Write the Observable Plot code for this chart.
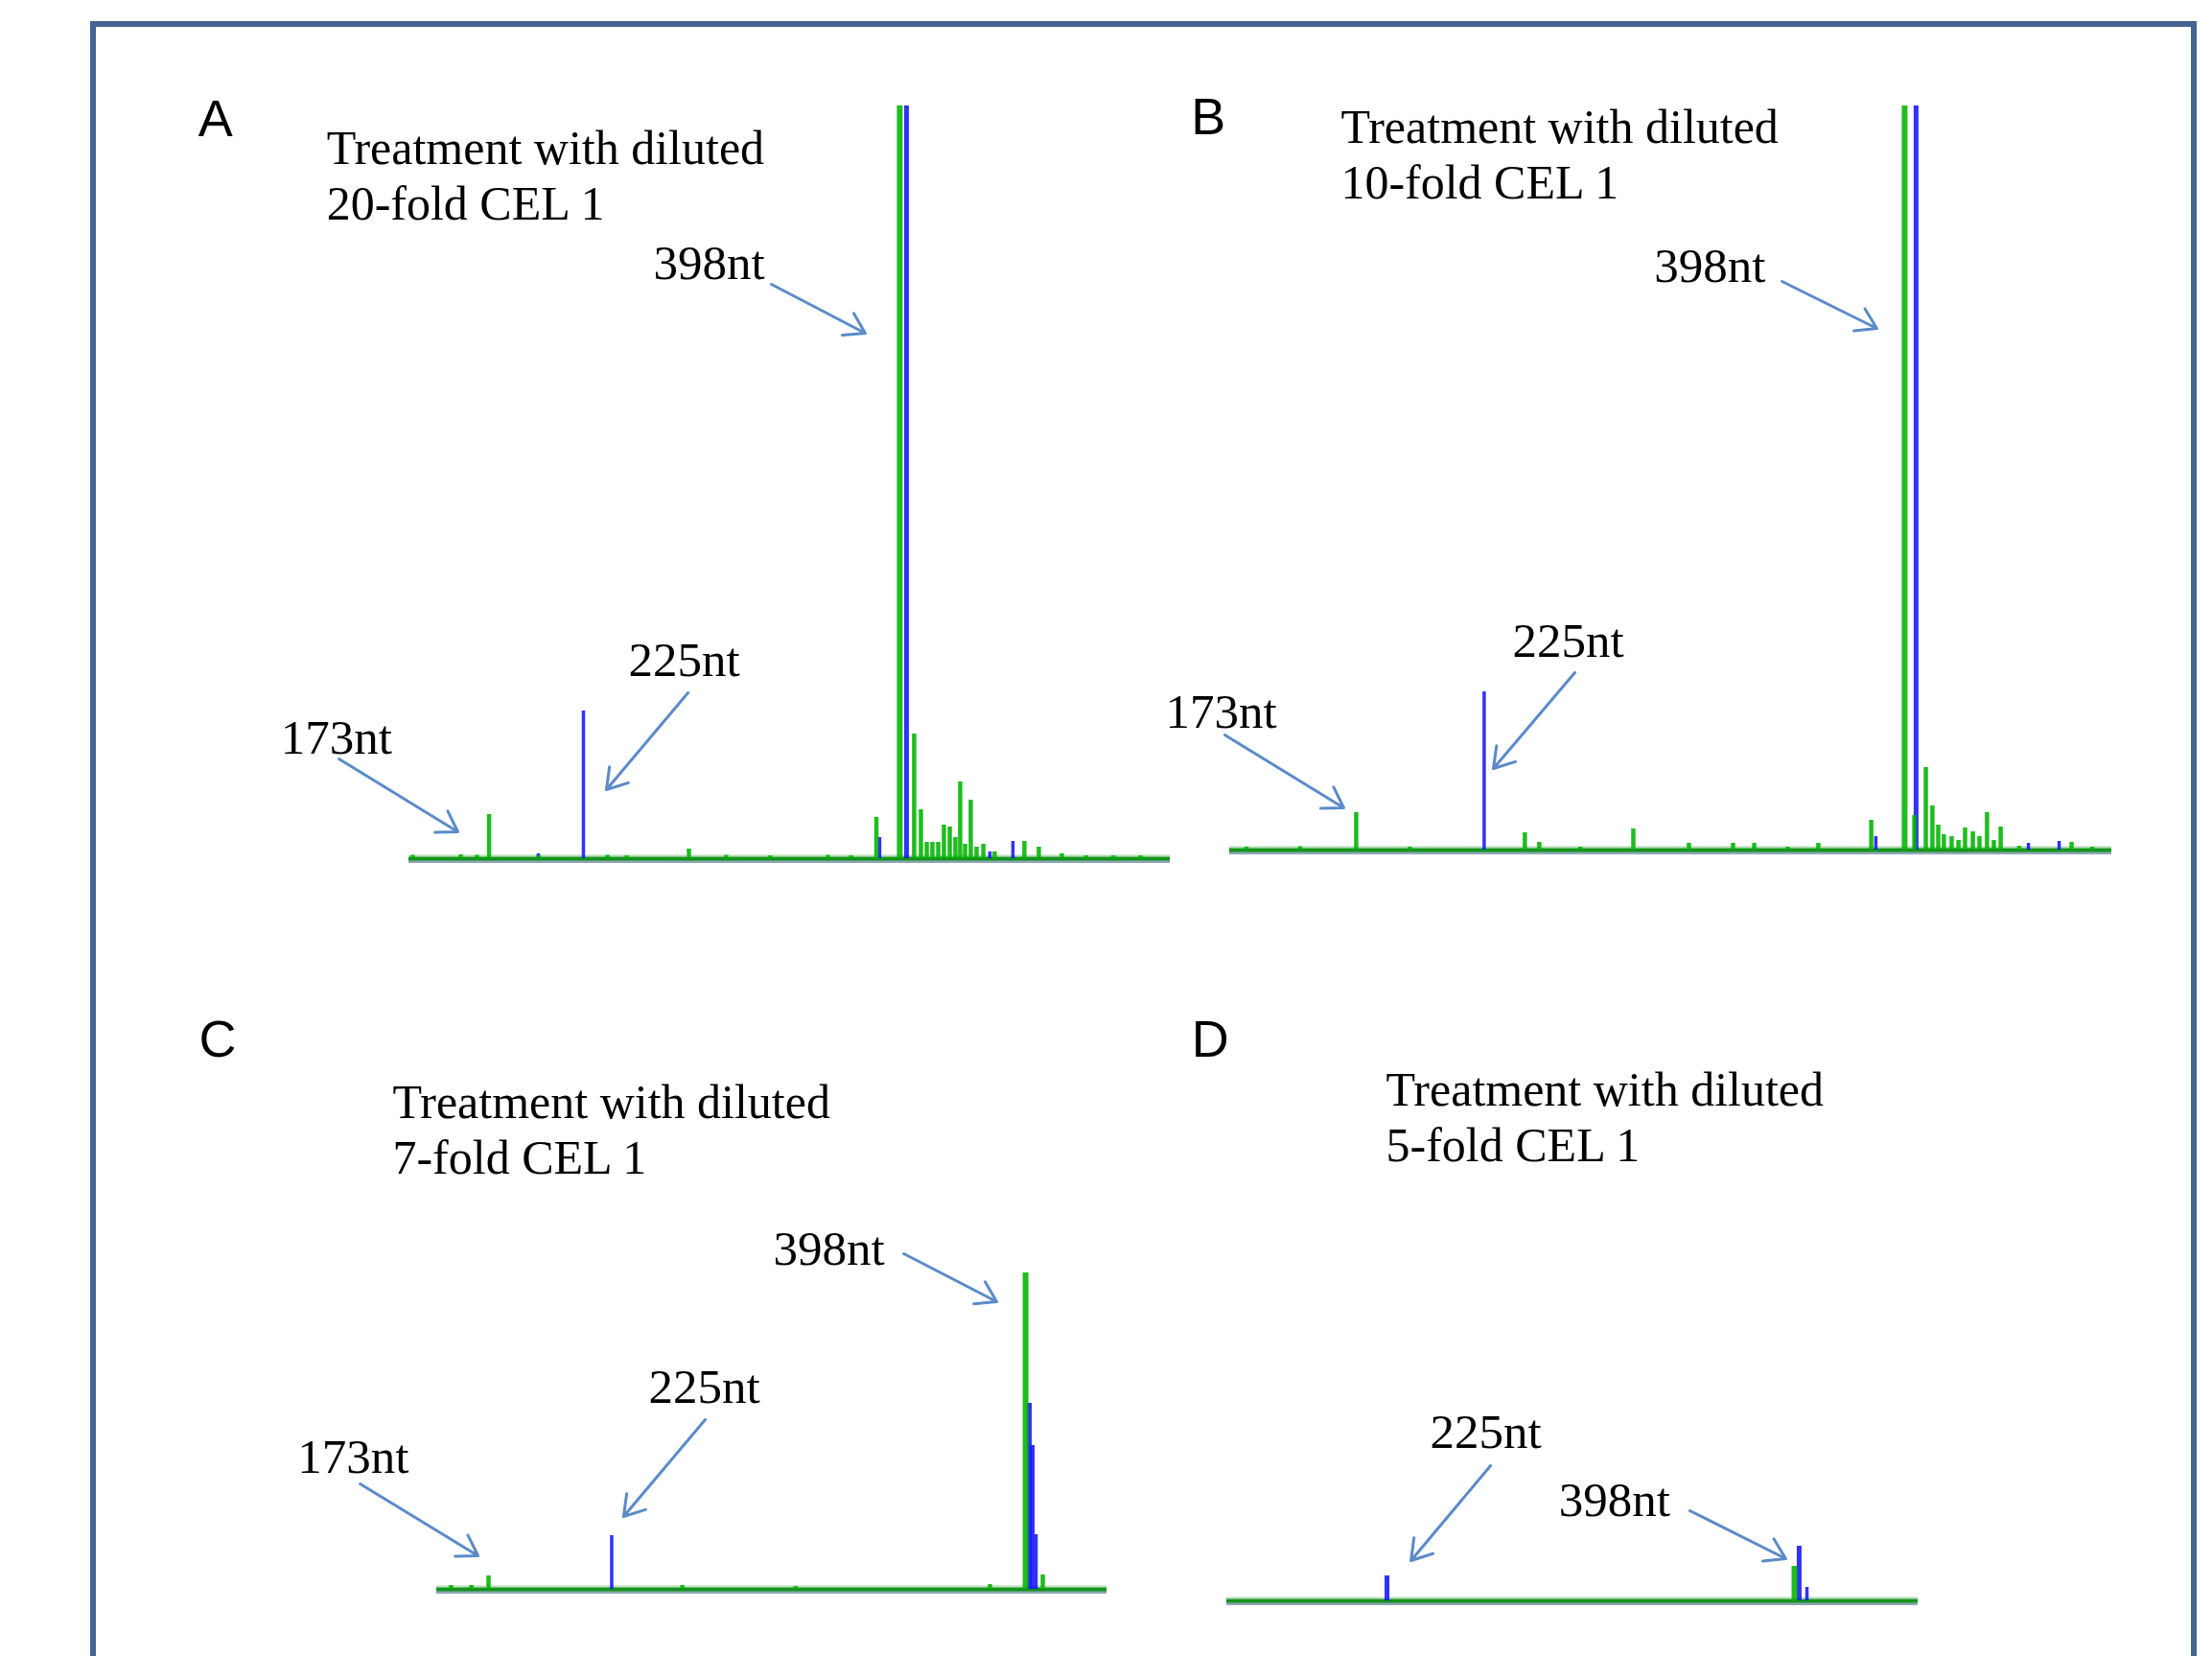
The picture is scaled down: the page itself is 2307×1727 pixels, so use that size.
<!DOCTYPE html>
<html>
<head>
<meta charset="utf-8">
<script src="https://cdn.jsdelivr.net/npm/d3@7"></script>
<script src="https://cdn.jsdelivr.net/npm/@observablehq/plot@0.6"></script>
<style>
  html, body { margin: 0; padding: 0; background: #ffffff; }
  body { width: 2307px; height: 1727px; position: relative; overflow: hidden; }
  #frame { position: absolute; left: 94px; top: 22px; width: 2185px; height: 1800px;
           border: 6px solid #436590; border-bottom: none; }
  #panels svg { position: absolute; left: 0; top: 0; overflow: visible; max-width: none; }
</style>
</head>
<body>
<div id="frame"></div>
<div id="panels"></div>
<script>
// ---------------- DATA ----------------
const PANELS = ["A", "B", "C", "D"];
const FOLDS = [20, 10, 7, 5];                  // CEL 1 dilution per panel
const FRAGMENTS = {
  A: ["173nt", "225nt", "398nt"],
  B: ["173nt", "225nt", "398nt"],
  C: ["173nt", "225nt", "398nt"],
  D: ["225nt", "398nt"]
};
// scanned size window of each electropherogram (nt)
const SCAN = { A: [129.1, 546.2], B: [121.1, 483.0], C: [151.3, 432.1], D: [157.0, 450.5] };

// peaks: [size (nt), signal (RFU)]
const greenA = [[131.2,35],[157.5,40],[166.4,35],[173,460],[200,30],[237.9,35],[248.4,30],[282.5,100],
  [302.9,35],[327.1,30],[358.6,35],[371.3,30],[385.2,430],[398,7850],[405.9,1300],[409.6,510],[412.8,170],
  [415.9,170],[419.1,170],[422.2,350],[425.4,330],[428.5,220],[431.1,800],[433.8,150],[436.9,610],
  [440.1,120],[443.8,150],[450,70],[466.3,180],[474.2,120],[486.8,50],[500,30],[515,30],[530,30]];
const blueA = [[200,50],[224.7,1540],[387.0,220],[401.7,7850],[447.4,70],[460.0,180]];

const greenB = [[128,30],[150,35],[173,390],[195,30],[242.2,180],[248.1,80],[265,30],[286.7,220],
  [309.5,70],[327.6,70],[336.3,70],[350,30],[362.6,70],[384.3,310],[398,7760],[402,360],[406.7,860],
  [409.4,460],[411.8,260],[414.1,160],[417.3,140],[420.1,100],[422.8,230],[426,190],[428.7,140],
  [431.8,390],[434.6,100],[437.4,240],[445,40],[466.5,80],[475,30]];
const blueB = [[225.5,1650],[386.2,140],[402.7,7760],[448.8,70],[461.4,90]];

const greenC = [[157.3,40],[165.8,40],[173,140],[254.2,40],[301.6,30],[383.1,50],[398,3300],[405.2,150]];
const blueC = [[224.6,560],[399.6,1940],[400.8,1500],[402.4,570]];

const greenD = [[398,360]];
const blueD = [[225,260],[400,570],[403.3,140]];

const GREEN_TRACES = { A: greenA, B: greenB, C: greenC, D: greenD };
const BLUE_TRACES = { A: blueA, B: blueB, C: blueC, D: blueD };

// ---------------- LAYOUT (pixel ranges, annotation anchors in data units) ----------------
const layout = {
  A: { xRange: [426, 1220], yRange: [895, 110], yMax: 7850,
       letter: [13.6, 7540], title: [84.0, 6670],
       labels: [[58.8, 1100], [249.4, 1910], [263.1, 6050]],
       arrows: [[90.8, 1040, 155.9, 280], [282.0, 1730, 237.3, 720], [327.7, 5990, 379.1, 5480]] },
  B: { xRange: [1282, 2202], yRange: [886, 110], yMax: 7760,
       letter: [105.3, 7470], title: [166.7, 6800],
       labels: [[94.7, 1280], [237.1, 2020], [295.3, 5930]],
       arrows: [[119.1, 1200, 167.9, 440], [262.7, 1850, 229.3, 850], [347.7, 5930, 386.6, 5440]] },
  C: { xRange: [455, 1154], yRange: [1657, 1327], yMax: 3300,
       letter: [51.7, 5560], title: [132.8, 4340],
       labels: [[93.0, 1220], [240.1, 1950], [292.3, 3390]],
       arrows: [[119.2, 1100, 168.6, 350], [263.8, 1770, 229.6, 760], [347.0, 3500, 385.9, 3000]] },
  D: { xRange: [1279, 2000], yRange: [1669, 1569], yMax: 1000,
       letter: [142.0, 5680], title: [224.6, 4590],
       labels: [[243.3, 1600], [297.9, 890]],
       arrows: [[269.0, 1410, 235.2, 420], [353.6, 940, 394.3, 440]] }
};

const GREEN = "#00b400", BLUE = "#1414ff", ARROW = "#5b8bc8";
const SERIF = "Liberation Serif, Times New Roman, serif";
const SANS = "Liberation Sans, Arial, sans-serif";

// ---------------- DRAW ----------------
const root = document.getElementById("panels");
PANELS.forEach((id, i) => {
  const L = layout[id];
  const scan = SCAN[id];
  const green = GREEN_TRACES[id].map(([nt, rfu]) => ({nt, rfu}));
  const blue = BLUE_TRACES[id].map(([nt, rfu]) => ({nt, rfu}));
  const labels = FRAGMENTS[id].map((t, k) => ({t, x: L.labels[k][0], y: L.labels[k][1]}));
  const arrows = L.arrows.map(([x1, y1, x2, y2]) => ({x1, y1, x2, y2}));
  const title = [{t: `Treatment with diluted\n${FOLDS[i]}-fold CEL 1`, x: L.title[0], y: L.title[1]}];
  const letter = [{t: id, x: L.letter[0], y: L.letter[1]}];
  const big = L.yMax * 0.25;

  const chart = Plot.plot({
    width: 2307, height: 1727, margin: 0,
    x: {domain: scan, range: L.xRange, axis: null},
    y: {domain: [0, L.yMax], range: L.yRange, axis: null},
    style: {background: "transparent", overflow: "visible", maxWidth: "none"},
    marks: [
      // baseline of the trace
      Plot.ruleY([0], {x1: scan[0], x2: scan[1], stroke: "#8ea7b4", strokeWidth: 3, dy: 3}),
      Plot.ruleY([0], {x1: scan[0], x2: scan[1], stroke: "#b5dcb5", strokeWidth: 2, dy: -3}),
      Plot.ruleY([0], {x1: scan[0], x2: scan[1], stroke: "#14941c", strokeWidth: 4}),
      // blue channel
      Plot.ruleX(blue, {x: "nt", y1: 0, y2: "rfu", stroke: BLUE,
        strokeWidth: d => d.rfu > big ? 5 : 3.5, strokeOpacity: 0.88}),
      // green channel
      Plot.ruleX(green, {x: "nt", y1: 0, y2: "rfu", stroke: GREEN,
        strokeWidth: d => d.rfu > big ? 6 : 4.5, strokeOpacity: 0.88}),
      // annotation arrows
      Plot.arrow(arrows, {x1: "x1", y1: "y1", x2: "x2", y2: "y2", stroke: ARROW,
        strokeWidth: 3, headLength: 12, headAngle: 65}),
      // fragment labels
      Plot.text(labels, {x: "x", y: "y", text: "t", textAnchor: "start", lineAnchor: "bottom",
        fontFamily: SERIF, fontSize: 51, fill: "#000"}),
      // panel title
      Plot.text(title, {x: "x", y: "y", text: "t", textAnchor: "start", lineAnchor: "bottom",
        lineHeight: 1.16, fontFamily: SERIF, fontSize: 50, fill: "#000"}),
      // panel letter
      Plot.text(letter, {x: "x", y: "y", text: "t", textAnchor: "start", lineAnchor: "bottom",
        fontFamily: SANS, fontSize: 54, fill: "#000"})
    ]
  });
  root.append(chart);
});
</script>
</body>
</html>
